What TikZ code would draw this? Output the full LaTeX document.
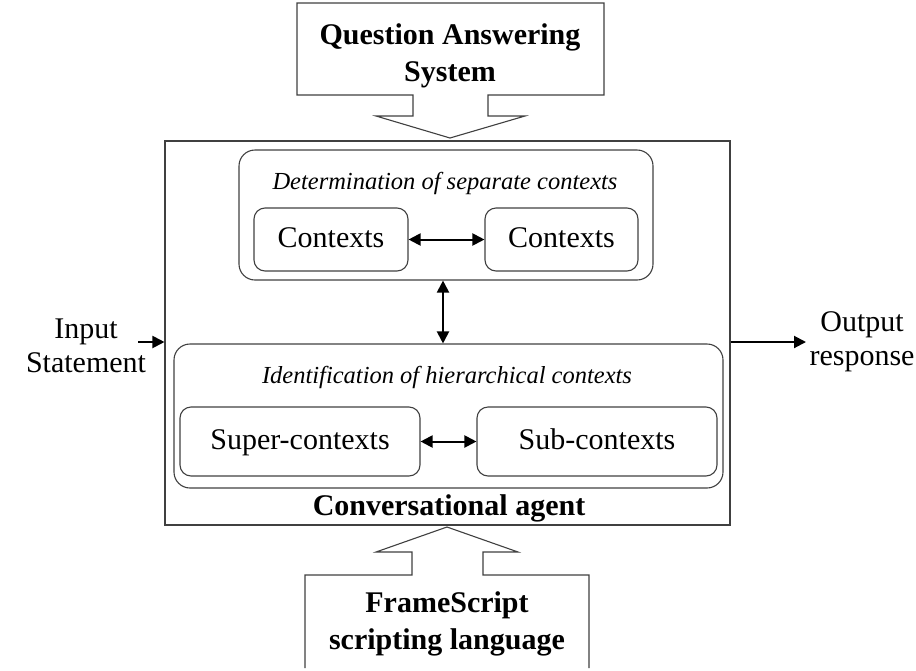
\documentclass[tikz,border=0pt]{standalone}
\usepackage{fontspec}
\setmainfont{Liberation Serif}
\usetikzlibrary{arrows.meta}
\begin{document}
\begin{tikzpicture}[x=1pt,y=-1pt,
  frame/.style={draw=black!75, line width=1.1pt},
  outerbox/.style={frame, rounded corners=16pt, inner sep=0pt},
  innerbox/.style={frame, rounded corners=11pt, inner sep=0pt, text height=21pt, text depth=6pt, font=\fontsize{30}{34}\selectfont},
  lbl/.style={align=center, inner sep=0pt, font=\fontsize{30}{34}\selectfont},
  blbl/.style={align=center, inner sep=0pt, font=\fontsize{30}{37}\selectfont\bfseries},
  ilbl/.style={inner sep=0pt, font=\fontsize{24.5}{28}\selectfont\itshape},
  arr/.style={line width=2pt, -{Triangle[length=12pt,width=12pt]}},
  dbl/.style={line width=2pt, {Triangle[length=12pt,width=12pt]}-{Triangle[length=12pt,width=12pt]}}]
\useasboundingbox (0,0) rectangle (916,670);
% main box
\node[frame, minimum width=565pt, minimum height=384pt, inner sep=0pt] (main) at (447.5,333) {};
% top block arrow
\draw[frame, fill=white] (297,3) -- (604,3) -- (604,95) -- (488,95) -- (488,116) -- (525,116)
  -- (450,138) -- (376,116) -- (413,116) -- (413,95) -- (297,95) -- cycle;
\node[blbl] (qa) at (450,56) {Question Answering\\System};
% bottom block arrow
\draw[frame, fill=white] (305,668) -- (305,575) -- (412,575) -- (412,552) -- (376,552) -- (447,527)
  -- (518,552) -- (483,552) -- (483,575) -- (589,575) -- (589,668);
\node[blbl] (fs) at (447,624) {FrameScript\\scripting language};
% separate contexts container
\node[outerbox, minimum width=414pt, minimum height=130pt] (sep) at (446,215) {};
\node[ilbl] (septitle) at (445,183) {Determination of separate contexts};
\node[innerbox, minimum width=154pt, minimum height=63pt] (c1) at (331,239.5) {Contexts};
\node[innerbox, minimum width=153pt, minimum height=63pt] (c2) at (561.5,239.5) {Contexts};
\draw[dbl] (c1) -- (c2);
% hierarchical contexts container
\node[outerbox, minimum width=549pt, minimum height=144pt] (hier) at (448.5,416) {};
\node[ilbl] (hiertitle) at (447,377) {Identification of hierarchical contexts};
\node[innerbox, minimum width=240pt, minimum height=69pt] (sup) at (300,441.5) {Super-contexts};
\node[innerbox, minimum width=240pt, minimum height=69pt] (sub) at (597,441.5) {Sub-contexts};
\draw[dbl] (sup) -- (sub);
% vertical arrow
\coordinate (vx) at (443,0);
\draw[dbl] (sep.south -| vx) -- (hier.north -| vx);
% agent label
\node[blbl] (agent) at (449,508) {Conversational agent};
% input / output
\node[lbl] (inp) at (86,346) {Input\\Statement};
\node[lbl] (outp) at (862,342) {Output\\response};
\coordinate (inA) at (138,342);
\draw[arr] (inA) -- (inA -| main.west);
\coordinate (outA) at (806,342);
\draw[arr] (outA -| main.east) -- (outA);
\end{tikzpicture}
\end{document}
